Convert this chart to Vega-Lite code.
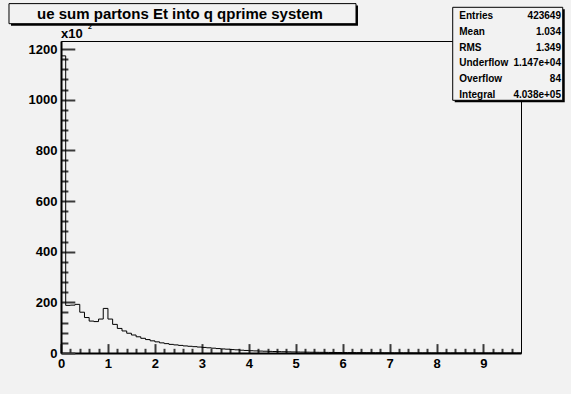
{
  "$schema": "https://vega.github.io/schema/vega-lite/v6.json",
  "width": 460,
  "height": 312,
  "autosize": "none",
  "padding": {"left": 61, "top": 41, "right": 50, "bottom": 41},
  "background": "#f2f2f2",
  "config": {
    "view": {"stroke": "black", "strokeWidth": 1, "fill": null},
    "font": "Liberation Sans"
  },
  "datasets": {
    "hist": [
      {"i":0,"x0":0.0,"x1":0.1,"count":1173},
      {"i":1,"x0":0.1,"x1":0.2,"count":188},
      {"i":2,"x0":0.2,"x1":0.3,"count":189},
      {"i":3,"x0":0.3,"x1":0.4,"count":192},
      {"i":4,"x0":0.4,"x1":0.5,"count":161},
      {"i":5,"x0":0.5,"x1":0.6,"count":140},
      {"i":6,"x0":0.6,"x1":0.7,"count":126},
      {"i":7,"x0":0.7,"x1":0.8,"count":124},
      {"i":8,"x0":0.8,"x1":0.9,"count":134},
      {"i":9,"x0":0.9,"x1":1.0,"count":176},
      {"i":10,"x0":1.0,"x1":1.1,"count":134},
      {"i":11,"x0":1.1,"x1":1.2,"count":113},
      {"i":12,"x0":1.2,"x1":1.3,"count":97},
      {"i":13,"x0":1.3,"x1":1.4,"count":87},
      {"i":14,"x0":1.4,"x1":1.5,"count":78},
      {"i":15,"x0":1.5,"x1":1.6,"count":71},
      {"i":16,"x0":1.6,"x1":1.7,"count":64},
      {"i":17,"x0":1.7,"x1":1.8,"count":58},
      {"i":18,"x0":1.8,"x1":1.9,"count":53},
      {"i":19,"x0":1.9,"x1":2.0,"count":48},
      {"i":20,"x0":2.0,"x1":2.1,"count":44},
      {"i":21,"x0":2.1,"x1":2.2,"count":40},
      {"i":22,"x0":2.2,"x1":2.3,"count":37},
      {"i":23,"x0":2.3,"x1":2.4,"count":34},
      {"i":24,"x0":2.4,"x1":2.5,"count":32},
      {"i":25,"x0":2.5,"x1":2.6,"count":30},
      {"i":26,"x0":2.6,"x1":2.7,"count":28},
      {"i":27,"x0":2.7,"x1":2.8,"count":26.5},
      {"i":28,"x0":2.8,"x1":2.9,"count":25},
      {"i":29,"x0":2.9,"x1":3.0,"count":23.5},
      {"i":30,"x0":3.0,"x1":3.1,"count":22},
      {"i":31,"x0":3.1,"x1":3.2,"count":20.5},
      {"i":32,"x0":3.2,"x1":3.3,"count":19},
      {"i":33,"x0":3.3,"x1":3.4,"count":17.5},
      {"i":34,"x0":3.4,"x1":3.5,"count":16},
      {"i":35,"x0":3.5,"x1":3.6,"count":15},
      {"i":36,"x0":3.6,"x1":3.7,"count":13.5},
      {"i":37,"x0":3.7,"x1":3.8,"count":12.5},
      {"i":38,"x0":3.8,"x1":3.9,"count":11},
      {"i":39,"x0":3.9,"x1":4.0,"count":10},
      {"i":40,"x0":4.0,"x1":4.1,"count":9},
      {"i":41,"x0":4.1,"x1":4.2,"count":8.3},
      {"i":42,"x0":4.2,"x1":4.3,"count":7.6},
      {"i":43,"x0":4.3,"x1":4.4,"count":7},
      {"i":44,"x0":4.4,"x1":4.5,"count":6.4},
      {"i":45,"x0":4.5,"x1":4.6,"count":5.9},
      {"i":46,"x0":4.6,"x1":4.7,"count":5.4},
      {"i":47,"x0":4.7,"x1":4.8,"count":5},
      {"i":48,"x0":4.8,"x1":4.9,"count":4.6},
      {"i":49,"x0":4.9,"x1":5.0,"count":4.2},
      {"i":50,"x0":5.0,"x1":5.1,"count":3.9},
      {"i":51,"x0":5.1,"x1":5.2,"count":3.6},
      {"i":52,"x0":5.2,"x1":5.3,"count":3.3},
      {"i":53,"x0":5.3,"x1":5.4,"count":3.0},
      {"i":54,"x0":5.4,"x1":5.5,"count":2.8},
      {"i":55,"x0":5.5,"x1":5.6,"count":2.6},
      {"i":56,"x0":5.6,"x1":5.7,"count":2.4},
      {"i":57,"x0":5.7,"x1":5.8,"count":2.2},
      {"i":58,"x0":5.8,"x1":5.9,"count":2.0},
      {"i":59,"x0":5.9,"x1":6.0,"count":1.8},
      {"i":60,"x0":6.0,"x1":6.1,"count":1.7},
      {"i":61,"x0":6.1,"x1":6.2,"count":1.6},
      {"i":62,"x0":6.2,"x1":6.3,"count":1.5},
      {"i":63,"x0":6.3,"x1":6.4,"count":1.4},
      {"i":64,"x0":6.4,"x1":6.5,"count":1.3},
      {"i":65,"x0":6.5,"x1":6.6,"count":1.2},
      {"i":66,"x0":6.6,"x1":6.7,"count":1.1},
      {"i":67,"x0":6.7,"x1":6.8,"count":1.0},
      {"i":68,"x0":6.8,"x1":6.9,"count":0.95},
      {"i":69,"x0":6.9,"x1":7.0,"count":0.9},
      {"i":70,"x0":7.0,"x1":7.1,"count":0.85},
      {"i":71,"x0":7.1,"x1":7.2,"count":0.8},
      {"i":72,"x0":7.2,"x1":7.3,"count":0.75},
      {"i":73,"x0":7.3,"x1":7.4,"count":0.7},
      {"i":74,"x0":7.4,"x1":7.5,"count":0.65},
      {"i":75,"x0":7.5,"x1":7.6,"count":0.6},
      {"i":76,"x0":7.6,"x1":7.7,"count":0.56},
      {"i":77,"x0":7.7,"x1":7.8,"count":0.52},
      {"i":78,"x0":7.8,"x1":7.9,"count":0.5},
      {"i":79,"x0":7.9,"x1":8.0,"count":0.47},
      {"i":80,"x0":8.0,"x1":8.1,"count":0.44},
      {"i":81,"x0":8.1,"x1":8.2,"count":0.42},
      {"i":82,"x0":8.2,"x1":8.3,"count":0.4},
      {"i":83,"x0":8.3,"x1":8.4,"count":0.38},
      {"i":84,"x0":8.4,"x1":8.5,"count":0.36},
      {"i":85,"x0":8.5,"x1":8.6,"count":0.34},
      {"i":86,"x0":8.6,"x1":8.7,"count":0.32},
      {"i":87,"x0":8.7,"x1":8.8,"count":0.3},
      {"i":88,"x0":8.8,"x1":8.9,"count":0.28},
      {"i":89,"x0":8.9,"x1":9.0,"count":0.27},
      {"i":90,"x0":9.0,"x1":9.1,"count":0.26},
      {"i":91,"x0":9.1,"x1":9.2,"count":0.25},
      {"i":92,"x0":9.2,"x1":9.3,"count":0.24},
      {"i":93,"x0":9.3,"x1":9.4,"count":0.23},
      {"i":94,"x0":9.4,"x1":9.5,"count":0.22},
      {"i":95,"x0":9.5,"x1":9.6,"count":0.21},
      {"i":96,"x0":9.6,"x1":9.7,"count":0.2},
      {"i":97,"x0":9.7,"x1":9.8,"count":0.19}
    ]
  },
  "resolve": {"axis": {"x": "independent", "y": "independent"}},
  "layer": [
    {
      "data": {"values": [{}]},
      "mark": {"type": "rect", "fill": "black", "stroke": null},
      "encoding": {
        "x": {"datum": -1.065, "type": "quantitative", "scale": {"domain": [0, 9.8], "nice": false, "zero": false}, "axis": null},
        "x2": {"datum": 6.327},
        "y": {"datum": 1371.4, "type": "quantitative", "scale": {"domain": [0, 1231.7], "nice": false, "zero": false}, "axis": null},
        "y2": {"datum": 1292.1}
      }
    },
    {
      "data": {"values": [{}]},
      "mark": {"type": "rect", "fill": "#f2f2f2", "stroke": "black", "strokeWidth": 1},
      "encoding": {
        "x": {"datum": -1.108, "type": "quantitative", "scale": {"domain": [0, 9.8], "nice": false, "zero": false}, "axis": null},
        "x2": {"datum": 6.285},
        "y": {"datum": 1379.3, "type": "quantitative", "scale": {"domain": [0, 1231.7], "nice": false, "zero": false}, "axis": null},
        "y2": {"datum": 1300.0}
      }
    },
    {
      "data": {"values": [{}]},
      "mark": {"type": "text", "text": "ue sum partons Et into q qprime system", "font": "Liberation Sans", "fontWeight": "bold", "fontSize": 15, "align": "center", "baseline": "middle", "color": "black"},
      "encoding": {
        "x": {"datum": 2.535, "type": "quantitative", "scale": {"domain": [0, 9.8], "nice": false, "zero": false}, "axis": null},
        "y": {"datum": 1339.9, "type": "quantitative", "scale": {"domain": [0, 1231.7], "nice": false, "zero": false}, "axis": null}
      }
    },
    {
      "data": {"values": [{}]},
      "mark": {"type": "rect", "fill": "black", "stroke": null},
      "encoding": {
        "x": {"datum": 8.388, "type": "quantitative", "scale": {"domain": [0, 9.8], "nice": false, "zero": false},
          "axis": {"orient": "top", "offset": -312, "values": [0.2,0.4,0.6,0.8,1.2,1.4,1.6,1.8,2.2,2.4,2.6,2.8,3.2,3.4,3.6,3.8,4.2,4.4,4.6,4.8,5.2,5.4,5.6,5.8,6.2,6.4,6.6,6.8,7.2,7.4,7.6,7.8,8.2,8.4,8.6,8.8,9.2,9.4,9.6], "ticks": true, "tickColor": "#3a3a3a", "tickSize": 4.7, "tickWidth": 2, "labels": false, "domain": false, "grid": false, "title": null}},
        "x2": {"datum": 10.732},
        "y": {"datum": 1356.8, "type": "quantitative", "scale": {"domain": [0, 1231.7], "nice": false, "zero": false},
          "axis": {"orient": "right", "offset": -460, "values": [40,80,120,160,240,280,320,360,440,480,520,560,640,680,720,760,840,880,920,960,1040,1080,1120,1160], "ticks": true, "tickColor": "#3a3a3a", "tickSize": 6.9, "tickWidth": 2, "labels": false, "domain": false, "grid": false, "title": null}},
        "y2": {"datum": 989.7}
      }
    },
    {
      "data": {"values": [{}]},
      "mark": {"type": "rect", "fill": "#f2f2f2", "stroke": "black", "strokeWidth": 1},
      "encoding": {
        "x": {"datum": 8.345, "type": "quantitative", "scale": {"domain": [0, 9.8], "nice": false, "zero": false}, "axis": null},
        "x2": {"datum": 10.689},
        "y": {"datum": 1364.7, "type": "quantitative", "scale": {"domain": [0, 1231.7], "nice": false, "zero": false}, "axis": null},
        "y2": {"datum": 997.6}
      }
    },
    {
      "data": {"values": [{}]},
      "mark": {"type": "text", "text": ["Entries", "Mean", "RMS", "Underflow", "Overflow", "Integral"], "lineHeight": 15.7, "font": "Liberation Sans", "fontWeight": "bold", "fontSize": 10, "align": "left", "baseline": "top", "color": "black"},
      "encoding": {
        "x": {"datum": 8.485, "type": "quantitative", "scale": {"domain": [0, 9.8], "nice": false, "zero": false}, "axis": null},
        "y": {"datum": 1348.9, "type": "quantitative", "scale": {"domain": [0, 1231.7], "nice": false, "zero": false}, "axis": null}
      }
    },
    {
      "data": {"values": [{}]},
      "mark": {"type": "text", "text": ["423649", "1.034", "1.349", "1.147e+04", "84", "4.038e+05"], "lineHeight": 15.7, "font": "Liberation Sans", "fontWeight": "bold", "fontSize": 10, "align": "right", "baseline": "top", "color": "black"},
      "encoding": {
        "x": {"datum": 10.652, "type": "quantitative", "scale": {"domain": [0, 9.8], "nice": false, "zero": false}, "axis": null},
        "y": {"datum": 1348.9, "type": "quantitative", "scale": {"domain": [0, 1231.7], "nice": false, "zero": false}, "axis": null}
      }
    },
    {
      "data": {"values": [{}]},
      "mark": {"type": "text", "text": "x10", "font": "Liberation Sans", "fontWeight": "bold", "fontSize": 13, "align": "left", "baseline": "alphabetic", "color": "black"},
      "encoding": {
        "x": {"datum": 0, "type": "quantitative", "scale": {"domain": [0, 9.8], "nice": false, "zero": false}, "axis": null},
        "y": {"datum": 1242.3, "type": "quantitative", "scale": {"domain": [0, 1231.7], "nice": false, "zero": false}, "axis": null}
      }
    },
    {
      "data": {"values": [{}]},
      "mark": {"type": "text", "text": "2", "font": "Liberation Sans", "fontWeight": "bold", "fontSize": 7, "align": "left", "baseline": "alphabetic", "color": "black"},
      "encoding": {
        "x": {"datum": 0.575, "type": "quantitative", "scale": {"domain": [0, 9.8], "nice": false, "zero": false}, "axis": null},
        "y": {"datum": 1279, "type": "quantitative", "scale": {"domain": [0, 1231.7], "nice": false, "zero": false}, "axis": null}
      }
    },
    {
      "data": {"name": "hist"},
      "transform": [{"fold": ["x0", "x1"], "as": ["side", "edge"]}],
      "mark": {"type": "line", "color": "black", "strokeWidth": 1, "interpolate": "linear"},
      "encoding": {
        "x": {"field": "edge", "type": "quantitative", "scale": {"domain": [0, 9.8], "nice": false, "zero": false},
          "axis": {"orient": "bottom", "values": [0,1,2,3,4,5,6,7,8,9], "ticks": true, "tickColor": "#3a3a3a", "tickSize": -9.4, "tickWidth": 2, "domainColor": "black", "domainWidth": 2, "grid": false, "labelFlush": false, "labelColor": "black", "labelFont": "Liberation Sans", "labelFontWeight": "bold", "labelFontSize": 13, "labelPadding": 13.4, "title": null}},
        "y": {"field": "count", "type": "quantitative", "scale": {"domain": [0, 1231.7], "nice": false, "zero": false},
          "axis": {"orient": "left", "values": [0,200,400,600,800,1000,1200], "format": "d", "ticks": true, "tickColor": "#3a3a3a", "tickSize": -13.8, "tickWidth": 2, "domainColor": "black", "domainWidth": 2, "grid": false, "labelColor": "black", "labelFont": "Liberation Sans", "labelFontWeight": "bold", "labelFontSize": 13, "labelPadding": 17.8, "title": null}},
        "order": [{"field": "i", "type": "quantitative"}, {"field": "side", "type": "nominal"}]
      }
    }
  ]
}
